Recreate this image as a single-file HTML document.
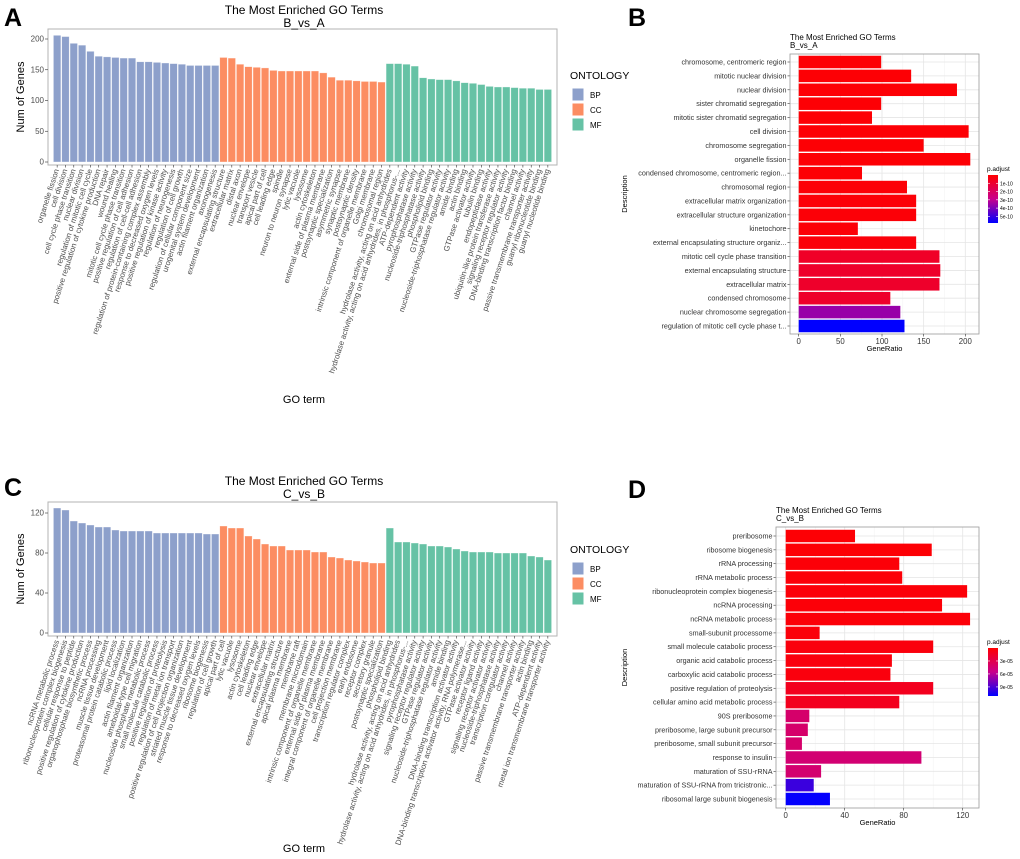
<!DOCTYPE html>
<html><head><meta charset="utf-8"><style>
body{margin:0;background:#fff;}
svg{display:block;font-family:"Liberation Sans",sans-serif;}
</style></head><body>
<svg id="fig" width="1020" height="859" viewBox="0 0 1020 859" xmlns="http://www.w3.org/2000/svg">
<text x="4" y="26" font-size="25" font-weight="bold">A</text>
<text x="628" y="26" font-size="25" font-weight="bold">B</text>
<text x="4" y="496" font-size="25" font-weight="bold">C</text>
<text x="628" y="498" font-size="25" font-weight="bold">D</text>
</svg>
<script>
// ---------- Panel A data ----------
const aBP = ["organelle fission","cell division","cell cycle phase transition","nuclear division","regulation of mitotic cell cycle","positive regulation of cytokine production","DNA repair","wound healing","mitotic cell cycle phase transition","positive regulation of cell adhesion","regulation of cell-cell adhesion","regulation of protein-containing complex assembly","response to decreased oxygen levels","positive regulation of kinase activity","regulation of neurogenesis","regulation of cell growth","regulation of cellular component size","urogenital system development","actin filament organization","axonogenesis"];
const aCC = ["external encapsulating structure","extracellular matrix","distal axon","nuclear envelope","transport vesicle","apical part of cell","cell leading edge","spindle","neuron to neuron synapse","lytic vacuole","lysosome","actin cytoskeleton","external side of plasma membrane","postsynaptic specialization","asymmetric synapse","synaptic membrane","postsynaptic density","intrinsic component of organelle membrane","Golgi membrane","chromosomal region"];
const aMF = ["hydrolase activity, acting on acid anhydrides","hydrolase activity, acting on acid anhydrides, in phosphorus-...","ATP-dependent activity","pyrophosphatase activity","nucleoside-triphosphatase activity","phospholipid binding","GTPase regulator activity","nucleoside-triphosphatase regulator activity","amide binding","actin binding","GTPase activator activity","tubulin binding","endopeptidase activity","ubiquitin-like protein transferase activity","signaling receptor regulator activity","DNA-binding transcription factor binding","channel activity","passive transmembrane transporter activity","guanyl ribonucleotide binding","guanyl nucleotide binding"];
const aBPv = [206,204,193,190,180,172,171,170,169,169,163,163,162,161,160,159,157,157,157,157];
const aCCv = [170,169,159,155,154,153,149,148,148,148,148,148,145,138,133,133,132,131,131,130];
const aMFv = [160,160,159,156,137,135,134,134,132,129,128,126,123,122,122,121,120,120,118,118];
const aTicks = [0,50,100,150,200];
// ---------- Panel C data ----------
const cBP = ["ncRNA metabolic process","ribonucleoprotein complex biogenesis","cellular response to peptide","positive regulation of cytokine production","organophosphate biosynthetic process","ncRNA processing","muscle tissue development","proteasomal protein catabolic process","lipid localization","actin filament organization","ameboidal-type cell migration","nucleoside phosphate metabolic process","small molecule catabolic process","positive regulation of proteolysis","regulation of metal ion transport","positive regulation of cell projection organization","striated muscle tissue development","response to decreased oxygen levels","ribosome biogenesis","regulation of cell growth"];
const cCC = ["apical part of cell","lytic vacuole","lysosome","actin cytoskeleton","cell leading edge","nuclear envelope","extracellular matrix","external encapsulating structure","apical plasma membrane","membrane raft","membrane microdomain","intrinsic component of organelle membrane","external side of plasma membrane","integral component of organelle membrane","cell projection membrane","transcription regulator complex","early endosome","receptor complex","secretory granule","postsynaptic specialization"];
const cMF = ["phospholipid binding","hydrolase activity, acting on acid anhydrides","hydrolase activity, acting on acid anhydrides, in phosphorus-...","pyrophosphatase activity","signaling receptor regulator activity","GTPase regulator activity","nucleoside-triphosphatase regulator activity","amide binding","DNA-binding transcription activator activity","DNA-binding transcription activator activity, RNA polymerase...","GTPase activator activity","receptor ligand activity","signaling receptor activator activity","nucleoside-triphosphatase activity","transcription coregulator activity","channel activity","passive transmembrane transporter activity","actin binding","ATP-dependent activity","metal ion transmembrane transporter activity"];
const cBPv = [125,123,112,110,108,106,106,103,102,102,102,102,100,100,100,100,100,100,99,99];
const cCCv = [107,105,105,97,94,89,87,87,83,83,83,81,81,76,75,73,72,71,70,70];
const cMFv = [105,91,91,90,89,87,87,86,84,82,81,81,81,80,80,80,80,77,76,73];
const cTicks = [0,40,80,120];
// ---------- Panel B data ----------
const bTerms = ["chromosome, centromeric region","mitotic nuclear division","nuclear division","sister chromatid segregation","mitotic sister chromatid segregation","cell division","chromosome segregation","organelle fission","condensed chromosome, centromeric region...","chromosomal region","extracellular matrix organization","extracellular structure organization","kinetochore","external encapsulating structure organiz...","mitotic cell cycle phase transition","external encapsulating structure","extracellular matrix","condensed chromosome","nuclear chromosome segregation","regulation of mitotic cell cycle phase t..."];
const bCounts = [99,135,190,99,88,204,150,206,76,130,141,141,71,141,169,170,169,110,122,127];
const bPadj = [0.1e-10,0.1e-10,0.1e-10,0.1e-10,0.1e-10,0.1e-10,0.1e-10,0.1e-10,0.1e-10,0.15e-10,0.15e-10,0.15e-10,0.15e-10,0.2e-10,0.8e-10,0.9e-10,0.9e-10,0.9e-10,3.6e-10,5.8e-10];
const bXTicks = [0,50,100,150,200];
const bLegTicks = [1e-10,2e-10,3e-10,4e-10,5e-10];
const bLegLabels = ["1e-10","2e-10","3e-10","4e-10","5e-10"];
// ---------- Panel D data ----------
const dTerms = ["preribosome","ribosome biogenesis","rRNA processing","rRNA metabolic process","ribonucleoprotein complex biogenesis","ncRNA processing","ncRNA metabolic process","small-subunit processome","small molecule catabolic process","organic acid catabolic process","carboxylic acid catabolic process","positive regulation of proteolysis","cellular amino acid metabolic process","90S preribosome","preribosome, large subunit precursor","preribosome, small subunit precursor","response to insulin","maturation of SSU-rRNA","maturation of SSU-rRNA from tricistronic...","ribosomal large subunit biogenesis"];
const dCounts = [47,99,77,79,123,106,125,23,100,72,71,100,77,16,15,11,92,24,19,30];
const dPadj = [0.2e-5,0.2e-5,0.3e-5,0.3e-5,0.3e-5,0.3e-5,0.3e-5,0.4e-5,0.5e-5,0.5e-5,0.5e-5,1.2e-5,1.2e-5,4.2e-5,4.2e-5,4.2e-5,4.5e-5,4.4e-5,9.5e-5,11e-5];
const dXTicks = [0,40,80,120];
const dLegTicks = [3e-5,6e-5,9e-5];
const dLegLabels = ["3e-05","6e-05","9e-05"];

const NS = "http://www.w3.org/2000/svg";
const svg = document.getElementById("fig");
function mk(tag, attrs, parent, txt){
  const e = document.createElementNS(NS, tag);
  for (const k in attrs) e.setAttribute(k, attrs[k]);
  if (txt !== undefined) e.textContent = txt;
  (parent || svg).appendChild(e);
  return e;
}
const ONT_COL = {BP:"#8da0cb", CC:"#fc8d62", MF:"#66c2a5"};

function columnPanel(o){
  const g = mk("g", {});
  
  
  const terms = [], vals = [], onts = [];
  o.groups.forEach(gr => { gr.t.forEach((t,i)=>{terms.push(t); vals.push(gr.v[i]); onts.push(gr.o);}); });
  const n = terms.length;
  const step = (o.x1 - o.x0) / (n + 1.2);
  const xs = i => o.x0 + step * (0.6 + i + 0.5);
  const ys = v => o.y0 - (v - o.tickMin) / (o.tickMax - o.tickMin) * (o.y0 - o.yTop);
  const fr = mk("rect", {x:o.x0, y:o.fTop, width:o.x1-o.x0, height:o.fBot-o.fTop, fill:"#fff", stroke:"#b3b3b3", "stroke-width":1}, g);
  
  
  vals.forEach((v,i)=>{
    const r = mk("rect", {x:xs(i)-step*0.45, y:ys(v), width:step*0.9, height:ys(0)-ys(v), fill:ONT_COL[onts[i]], stroke:"#fff", "stroke-opacity":0.6, "stroke-width":0.6}, g);
    
    
    mk("line", {x1:xs(i), x2:xs(i), y1:o.fBot, y2:o.fBot+2.5, stroke:"#333", "stroke-width":0.6}, g);
    const lb = mk("text", {x:xs(i)+2, y:o.fBot+5, "font-size":7.8, fill:"#4d4d4d", "text-anchor":"end", transform:`rotate(-72 ${xs(i)+2} ${o.fBot+5})`}, g, terms[i]);
    
    
  });
  o.ticks.forEach(t=>{
    mk("line", {x1:o.x0-3, x2:o.x0, y1:ys(t), y2:ys(t), stroke:"#333", "stroke-width":0.6}, g);
    const tl = mk("text", {x:o.x0-4, y:ys(t)+2.5, "font-size":8, fill:"#4d4d4d", "text-anchor":"end"}, g, t);
    
    
  });
  const yt = mk("text", {x:o.yTitleX, y:(o.fTop+o.fBot)/2, "font-size":11, "text-anchor":"middle", transform:`rotate(-90 ${o.yTitleX} ${(o.fTop+o.fBot)/2})`}, g, "Num of Genes");
  
  
  const xt = mk("text", {x:304, y:o.xTitleY, "font-size":11, "text-anchor":"middle"}, g, "GO term");
  
  
  const t1 = mk("text", {x:304, y:o.titleY, "font-size":12, "text-anchor":"middle"}, g, "The Most Enriched GO Terms");
  
  
  const t2 = mk("text", {x:304, y:o.titleY+13, "font-size":12, "text-anchor":"middle"}, g, o.sub);
  
  
  const lg = mk("g", {}, g);
  
  
  mk("text", {x:570, y:o.legY, "font-size":10.5}, lg, "ONTOLOGY");
  ["BP","CC","MF"].forEach((k,j)=>{
    const bx = mk("rect", {x:572, y:o.legY+9+j*15, width:12, height:13, fill:ONT_COL[k], stroke:"#fff"}, lg);
    
    
    const lt = mk("text", {x:590, y:o.legY+19+j*15, "font-size":8}, lg, k);
    
    
  });
}

columnPanel({name:"panel-a-column-chart", groups:[{t:aBP,v:aBPv,o:"BP"},{t:aCC,v:aCCv,o:"CC"},{t:aMF,v:aMFv,o:"MF"}],
  x0:48, x1:557, fTop:29, fBot:165, y0:162, yTop:39, tickMin:0, tickMax:200, ticks:aTicks,
  yTitleX:24, xTitleY:403, titleY:14, sub:"B_vs_A", legY:79});
columnPanel({name:"panel-c-column-chart", groups:[{t:cBP,v:cBPv,o:"BP"},{t:cCC,v:cCCv,o:"CC"},{t:cMF,v:cMFv,o:"MF"}],
  x0:48, x1:557, fTop:502, fBot:636, y0:633, yTop:513, tickMin:0, tickMax:120, ticks:cTicks,
  yTitleX:24, xTitleY:852, titleY:485, sub:"C_vs_B", legY:553});

function lerp(a,b,t){return Math.round(a+(b-a)*t);}
function colorAt(t){
  t = Math.max(0, Math.min(1, t));
  const s = [[255,0,0],[200,0,140],[0,0,255]];
  let a,b,u;
  if (t < 0.5){a=s[0];b=s[1];u=t/0.5;} else {a=s[1];b=s[2];u=(t-0.5)/0.5;}
  return `rgb(${lerp(a[0],b[0],u)},${lerp(a[1],b[1],u)},${lerp(a[2],b[2],u)})`;
}

function barPanel(o){
  const g = mk("g", {});
  
  
  const n = o.terms.length;
  const rowH = (o.fBot - o.fTop - 2*o.pad) / (n - 1);
  const ys = i => o.fTop + o.pad + rowH * i;
  const xs = v => o.xZero + v * o.pxPer;
  mk("rect", {x:o.fLeft, y:o.fTop, width:o.fRight-o.fLeft, height:o.fBot-o.fTop, fill:"#fff"}, g);
  for (let k=0;k<o.xTicks.length;k++){
    const t = o.xTicks[k];
    const half = t + (o.xTicks[1]-o.xTicks[0])/2;
    if (xs(half) < o.fRight) mk("line", {x1:xs(half), x2:xs(half), y1:o.fTop, y2:o.fBot, stroke:"#f2f2f2", "stroke-width":0.5}, g);
    mk("line", {x1:xs(t), x2:xs(t), y1:o.fTop, y2:o.fBot, stroke:"#e5e5e5", "stroke-width":0.8}, g);
  }
  for (let i=0;i<n;i++) mk("line", {x1:o.fLeft, x2:o.fRight, y1:ys(i), y2:ys(i), stroke:"#e5e5e5", "stroke-width":0.8}, g);
  o.counts.forEach((v,i)=>{
    const col = colorAt((o.padj[i]-o.pMin)/(o.pMax-o.pMin));
    const r = mk("rect", {x:xs(0), y:ys(i)-rowH*0.45, width:xs(v)-xs(0), height:rowH*0.9, fill:col}, g);
    
    
    mk("line", {x1:o.fLeft-2.5, x2:o.fLeft, y1:ys(i), y2:ys(i), stroke:"#333", "stroke-width":0.6}, g);
    const lb = mk("text", {x:o.fLeft-3.5, y:ys(i)+2.5, "font-size":7.2, fill:"#333", "text-anchor":"end"}, g, o.terms[i]);
    
    
  });
  mk("rect", {x:o.fLeft, y:o.fTop, width:o.fRight-o.fLeft, height:o.fBot-o.fTop, fill:"none", stroke:"#999", "stroke-width":0.8}, g);
  o.xTicks.forEach(t=>{
    mk("line", {x1:xs(t), x2:xs(t), y1:o.fBot, y2:o.fBot+2.5, stroke:"#333", "stroke-width":0.6}, g);
    const tl = mk("text", {x:xs(t), y:o.fBot+10, "font-size":7.8, fill:"#333", "text-anchor":"middle"}, g, t);
    
    
  });
  const xt = mk("text", {x:(o.fLeft+o.fRight)/2, y:o.fBot+17, "font-size":7.5, "text-anchor":"middle"}, g, "GeneRatio");
  
  
  const cy = (o.fTop+o.fBot)/2;
  const yt = mk("text", {x:627, y:cy, "font-size":7.5, "text-anchor":"middle", transform:`rotate(-90 627 ${cy})`}, g, "Description");
  
  
  const t1 = mk("text", {x:o.fLeft, y:o.fTop-14, "font-size":8}, g, "The Most Enriched GO Terms");
  
  
  const t2 = mk("text", {x:o.fLeft, y:o.fTop-6, "font-size":8}, g, o.sub);
  
  
  const lg = mk("g", {}, g);
  
  
  const gid = "grad-" + o.name;
  const defs = mk("defs", {}, lg);
  const gr = mk("linearGradient", {id:gid, x1:0, y1:0, x2:0, y2:1}, defs);
  for (let k=0;k<=10;k++) mk("stop", {offset:k/10, "stop-color":colorAt(k/10)}, gr);
  mk("text", {x:o.legX-1, y:o.legTop-4, "font-size":6.5}, lg, "p.adjust");
  mk("rect", {x:o.legX, y:o.legTop, width:10, height:o.legBot-o.legTop, fill:`url(#${gid})`}, lg);
  const ly = p => o.legTop + (p-o.pMin)/(o.pMax-o.pMin)*(o.legBot-o.legTop);
  o.legTicks.forEach((p,k)=>{
    mk("line", {x1:o.legX, x2:o.legX+2, y1:ly(p), y2:ly(p), stroke:"#fff", "stroke-width":0.6}, lg);
    mk("line", {x1:o.legX+8, x2:o.legX+10, y1:ly(p), y2:ly(p), stroke:"#fff", "stroke-width":0.6}, lg);
    mk("text", {x:o.legX+12, y:ly(p)+2, "font-size":5}, lg, o.legLabels[k]);
  });
}

barPanel({name:"panel-b-bar-chart", terms:bTerms, counts:bCounts, padj:bPadj, xTicks:bXTicks,
  fLeft:790, fRight:979, fTop:54, fBot:334, pad:8, xZero:798.7, pxPer:0.833, sub:"B_vs_A",
  pMin:0, pMax:5.8e-10, legX:988, legTop:175, legBot:223, legTicks:bLegTicks, legLabels:bLegLabels});
barPanel({name:"panel-d-bar-chart", terms:dTerms, counts:dCounts, padj:dPadj, xTicks:dXTicks,
  fLeft:776, fRight:979, fTop:527, fBot:808, pad:9, xZero:785.7, pxPer:1.475, sub:"C_vs_B",
  pMin:0, pMax:11.1e-5, legX:988, legTop:648, legBot:696, legTicks:dLegTicks, legLabels:dLegLabels});
</script>
</body></html>
